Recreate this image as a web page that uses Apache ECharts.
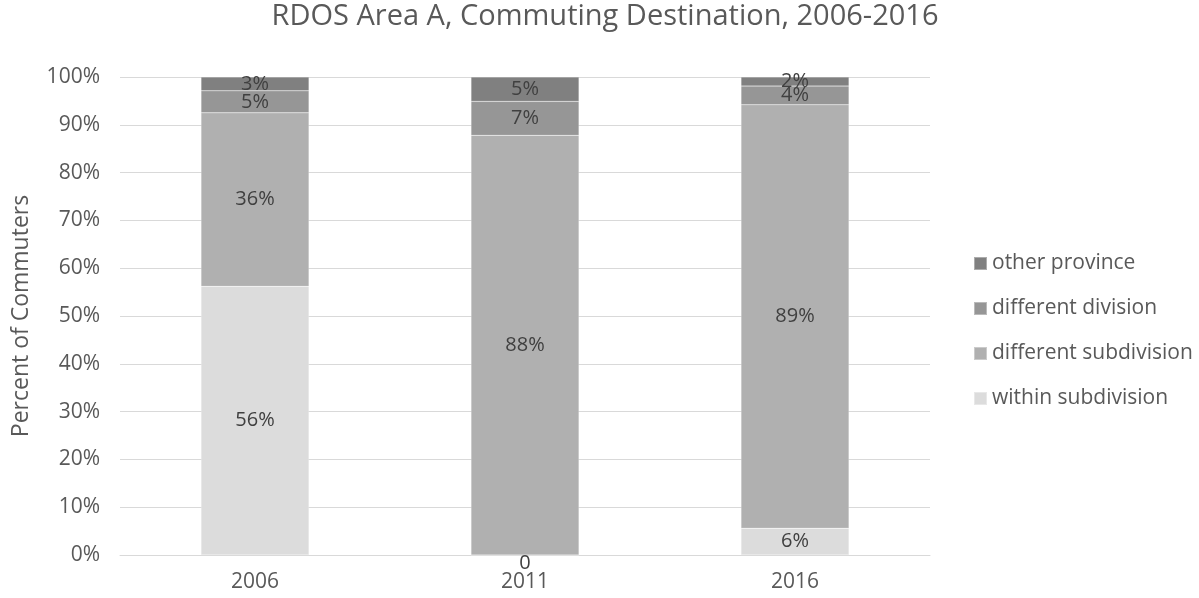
<!DOCTYPE html>
<html>
<head>
<meta charset="utf-8">
<script src="https://cdn.jsdelivr.net/npm/echarts@6/dist/echarts.min.js"></script>
<style>
  html, body { margin: 0; padding: 0; background: #fff; }
  #main { width: 1199px; height: 598px; }
</style>
</head>
<body>
<div id="main"></div>
<script>
const years = ["2006", "2011", "2016"];
const withinSubdivision = [56.2, 0, 5.6];
const differentSubdivision = [36.3, 87.8, 88.6];
const differentDivision = [4.6, 7.1, 3.9];
const otherProvince = [2.9, 5.1, 1.9];
const yTicks = [0, 10, 20, 30, 40, 50, 60, 70, 80, 90, 100];

const font = "'Open Sans', 'Noto Sans', sans-serif";

function makeSeries(name, data, color) {
  return {
    name: name,
    type: "bar",
    stack: "total",
    barWidth: "40%",
    // zero values get their label nudged just under the axis, like the original
    data: data.map((v) => (v === 0 ? { value: v, label: { offset: [0, 8] } } : v)),
    itemStyle: { color: color, borderColor: "rgba(255,255,255,0.35)", borderWidth: 0.5 },
    label: {
      show: true,
      position: "inside",
      color: "#404040",
      fontFamily: font,
      fontSize: 20,
      formatter: (p) => (p.value === 0 ? "0" : Math.round(p.value) + "%"),
    },
  };
}

const chart = echarts.init(document.getElementById("main"));
chart.setOption({
  backgroundColor: "#fff",
  animation: false,
  title: {
    text: "RDOS Area A, Commuting Destination, 2006-2016",
    left: 600,
    textAlign: "center",
    top: -3,
    textStyle: { fontFamily: font, fontSize: 29, fontWeight: "normal", color: "#595959" },
  },
  grid: { left: 120, right: 269, top: 77, bottom: 43 },
  legend: {
    orient: "vertical",
    left: 968,
    top: 248,
    itemWidth: 13,
    itemHeight: 13,
    itemGap: 24,
    icon: "rect",
    data: ["other province", "different division", "different subdivision", "within subdivision"],
    textStyle: { fontFamily: font, fontSize: 21, color: "#595959" },
  },
  xAxis: {
    type: "category",
    data: years,
    axisTick: { show: false },
    axisLine: { lineStyle: { color: "#d9d9d9", width: 1 } },
    axisLabel: { fontFamily: font, fontSize: 21, color: "#595959", margin: 17 },
  },
  yAxis: {
    type: "value",
    min: yTicks[0],
    max: yTicks[yTicks.length - 1],
    interval: 10,
    name: "Percent of Commuters",
    nameLocation: "middle",
    nameGap: 87,
    nameTextStyle: { fontFamily: font, fontSize: 23, color: "#595959" },
    axisLabel: { fontFamily: font, fontSize: 21, color: "#595959", margin: 20, formatter: "{value}%" },
    splitLine: { lineStyle: { color: "#d9d9d9", width: 1 } },
    axisLine: { show: false },
    axisTick: { show: false },
  },
  series: [
    makeSeries("within subdivision", withinSubdivision, "#dcdcdc"),
    makeSeries("different subdivision", differentSubdivision, "#b0b0b0"),
    makeSeries("different division", differentDivision, "#969696"),
    makeSeries("other province", otherProvince, "#808080"),
  ],
});
</script>
</body>
</html>
